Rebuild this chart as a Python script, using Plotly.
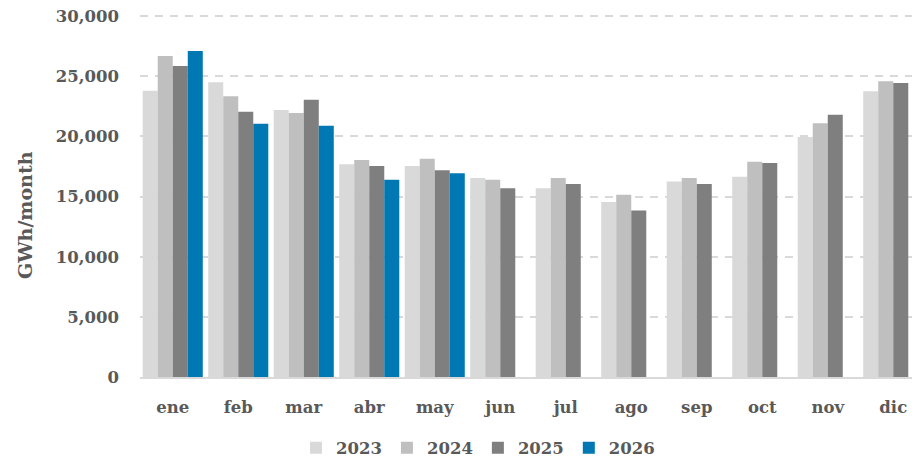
import plotly.graph_objects as go

months = ["ene", "feb", "mar", "abr", "may", "jun", "jul", "ago", "sep", "oct", "nov", "dic"]
y2023 = [23800, 24500, 22200, 17700, 17550, 16550, 15700, 14550, 16250, 16650, 19950, 23750]
y2024 = [26700, 23350, 21950, 18050, 18150, 16400, 16550, 15150, 16550, 17900, 21100, 24600]
y2025 = [25850, 22050, 23050, 17550, 17200, 15700, 16050, 13850, 16050, 17800, 21800, 24450]
y2026 = [27100, 21050, 20900, 16400, 16950]
series_names = ["2023", "2024", "2025", "2026"]
colors = ["#d9d9d9", "#bfbfbf", "#7f7f7f", "#0078b4"]
tick_vals = [0, 5000, 10000, 15000, 20000, 25000, 30000]

FONT = "DejaVu Serif"
TXT = "#595959"
FS = 16.5

# figure coordinates (page body has an 8px offset)
L, R, T, B = 132, 2, 7, 92
PW, PH = 920 - L - R, 461 - T - B

fig = go.Figure()
for name, vals, c in zip(series_names, [y2023, y2024, y2025, y2026], colors):
    fig.add_trace(go.Bar(x=months[:len(vals)], y=vals, name=name,
                         marker=dict(color=c, line=dict(width=0))))

fig.update_layout(
    width=920, height=461,
    margin=dict(l=L, r=R, t=T, b=B, autoexpand=False),
    paper_bgcolor="white", plot_bgcolor="white",
    barmode="group", bargap=0.083, bargroupgap=0,
    font=dict(family=FONT, size=FS, color=TXT, weight="bold"),
    legend=dict(orientation="h", x=(470 - L) / PW, xanchor="center",
                y=-(440 - (T + PH)) / PH, yanchor="middle",
                font=dict(family=FONT, size=FS, color=TXT, weight="bold"),
                traceorder="normal", itemwidth=30),
    showlegend=True,
)
fig.update_xaxes(categoryorder="array", categoryarray=months, automargin=False,
                 range=[-0.5, 11.5], showline=True, linecolor="#d9d9d9", linewidth=2,
                 ticks="", tickfont=dict(family=FONT, size=FS, color=TXT, weight="bold"),
                 ticklabelstandoff=14, ticklabeloverflow="allow")
fig.update_yaxes(range=[0, 30100], tickvals=tick_vals, tickformat=",", showgrid=True,
                 automargin=False, ticklabeloverflow="allow",
                 gridcolor="#d9d9d9", gridwidth=1.5, griddash="8px,7px", zeroline=False,
                 showline=False, ticks="", tickfont=dict(family=FONT, size=FS, color=TXT, weight="bold"),
                 ticklabelstandoff=20)
fig.add_annotation(text="GWh/month", x=(17 - L) / PW, y=(T + PH - 207) / PH,
                   xref="paper", yref="paper", xanchor="center", yanchor="middle",
                   showarrow=False, textangle=-90,
                   font=dict(family=FONT, size=19, color=TXT, weight="bold"))

fig.write_html("out.html")
